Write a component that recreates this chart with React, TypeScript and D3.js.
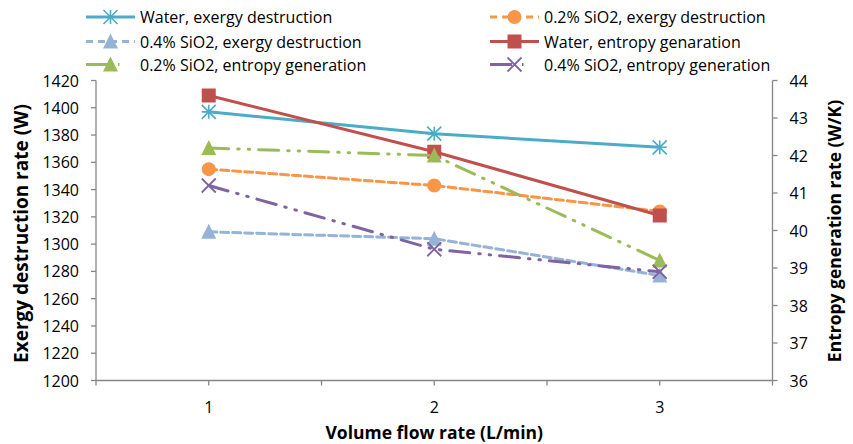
import React from "react";
import * as d3 from "d3";

const flowRates = ["1", "2", "3"];

const waterExergy = [1397, 1381, 1371];
const sio2_02Exergy = [1355, 1343, 1324];
const sio2_04Exergy = [1309, 1304, 1277];
const waterEntropy = [43.6, 42.1, 40.4];
const sio2_02Entropy = [42.2, 42.0, 39.2];
const sio2_04Entropy = [41.2, 39.5, 38.9];

const leftTicks = [1200, 1220, 1240, 1260, 1280, 1300, 1320, 1340, 1360, 1380, 1400, 1420];
const rightTicks = [36, 37, 38, 39, 40, 41, 42, 43, 44];

type Marker = "star" | "circle" | "triangle" | "square" | "x";

interface Series {
  name: string;
  values: number[];
  axis: "left" | "right";
  color: string;
  dash: string;
  legendDash: string;
  marker: Marker;
}

const series: Series[] = [
  { name: "Water, exergy destruction", values: waterExergy, axis: "left", color: "#4BACC6", dash: "", legendDash: "", marker: "star" },
  { name: "0.2% SiO2, exergy destruction", values: sio2_02Exergy, axis: "left", color: "#F79646", dash: "8,4", legendDash: "7,5", marker: "circle" },
  { name: "0.4% SiO2, exergy destruction", values: sio2_04Exergy, axis: "left", color: "#95B3D7", dash: "8,4", legendDash: "7,5", marker: "triangle" },
  { name: "Water, entropy genaration", values: waterEntropy, axis: "right", color: "#C0504D", dash: "", legendDash: "", marker: "square" },
  { name: "0.2% SiO2, entropy generation", values: sio2_02Entropy, axis: "right", color: "#9BBB59", dash: "20,9,1.5,9,1.5,9", legendDash: "22,10,1.5,20", marker: "triangle" },
  { name: "0.4% SiO2, entropy generation", values: sio2_04Entropy, axis: "right", color: "#8064A2", dash: "20,9,1.5,9,1.5,9", legendDash: "22,10,1.5,20", marker: "x" },
];

const W = 853;
const H = 444;
const plot = { left: 96, right: 772.5, top: 80.5, bottom: 380.5 };
const FONT = "'Open Sans', Lato, sans-serif";

function MarkerShape({ type, x, y, color }: { type: Marker; x: number; y: number; color: string }) {
  const s = 7;
  switch (type) {
    case "circle":
      return <circle cx={x} cy={y} r={s} fill={color} />;
    case "square":
      return <rect x={x - s} y={y - s} width={2 * s} height={2 * s} fill={color} />;
    case "triangle":
      return <path d={`M${x},${y - s - 1}L${x + s + 0.5},${y + s}L${x - s - 0.5},${y + s}Z`} fill={color} />;
    case "x":
      return (
        <path
          d={`M${x - s},${y - s}L${x + s},${y + s}M${x - s},${y + s}L${x + s},${y - s}`}
          stroke={color}
          strokeWidth={1.8}
        />
      );
    case "star":
      return (
        <path
          d={`M${x},${y - s}L${x},${y + s}M${x - s},${y - s}L${x + s},${y + s}M${x - s},${y + s}L${x + s},${y - s}M${x - s},${y}L${x + s},${y}`}
          stroke={color}
          strokeWidth={1.6}
        />
      );
  }
}

export default function App() {
  const x = d3.scaleBand<string>().domain(flowRates).range([plot.left, plot.right]);
  const yL = d3.scaleLinear().domain([1200, 1420]).range([plot.bottom, plot.top]);
  const yR = d3.scaleLinear().domain([36, 44]).range([plot.bottom, plot.top]);
  const cx = (c: string) => (x(c) ?? 0) + x.bandwidth() / 2;

  const legendPos = [
    { lx: 86, y: 17 },
    { lx: 490, y: 17 },
    { lx: 86, y: 41.5 },
    { lx: 490, y: 41.5 },
    { lx: 86, y: 64.5 },
    { lx: 490, y: 64.5 },
  ];

  return (
    <svg width={W} height={H} style={{ position: "absolute", left: 0, top: 0, background: "#fff" }} fontFamily={FONT}>
      {/* axes */}
      <g stroke="#868686" strokeWidth={1.3} fill="none">
        <line x1={plot.left} y1={plot.top} x2={plot.left} y2={plot.bottom} />
        <line x1={plot.right} y1={plot.top} x2={plot.right} y2={plot.bottom} />
        <line x1={plot.left} y1={plot.bottom} x2={plot.right} y2={plot.bottom} />
        {leftTicks.map((t) => (
          <line key={t} x1={plot.left - 5} x2={plot.left} y1={yL(t)} y2={yL(t)} />
        ))}
        {rightTicks.map((t) => (
          <line key={t} x1={plot.right} x2={plot.right + 5} y1={yR(t)} y2={yR(t)} />
        ))}
        {[plot.left, ...flowRates.map((c) => (x(c) ?? 0) + x.bandwidth()), ...flowRates.map(cx)].map((p, i) => (
          <line key={i} x1={p} x2={p} y1={plot.bottom} y2={plot.bottom + 5} />
        ))}
      </g>
      <g fontSize={16} fill="#000">
        {leftTicks.map((t) => (
          <text key={t} x={plot.left - 17} y={yL(t)} textAnchor="end" dominantBaseline="central">
            {t}
          </text>
        ))}
        {rightTicks.map((t) => (
          <text key={t} x={plot.right + 17} y={yR(t)} dominantBaseline="central">
            {t}
          </text>
        ))}
        {flowRates.map((c) => (
          <text key={c} x={cx(c)} y={407} textAnchor="middle" dominantBaseline="central">
            {c}
          </text>
        ))}
      </g>
      <g fontWeight="bold" fill="#000">
        <text fontSize={19} transform={`translate(21,233.5) rotate(-90)`} textAnchor="middle" dominantBaseline="central">
          Exergy destruction rate  (W)
        </text>
        <text fontSize={17.5} transform={`translate(834,231) rotate(-90)`} textAnchor="middle" dominantBaseline="central">
          Entropy generation rate (W/K)
        </text>
        <text fontSize={17.5} x={(plot.left + plot.right) / 2} y={432} textAnchor="middle" dominantBaseline="central">
          Volume flow rate (L/min)
        </text>
      </g>
      {/* series */}
      {series.map((s) => {
        const yS = s.axis === "left" ? yL : yR;
        const line = d3
          .line<number>()
          .x((_, i) => cx(flowRates[i]))
          .y((v) => yS(v));
        return (
          <g key={s.name}>
            <path d={line(s.values) ?? ""} fill="none" stroke={s.color} strokeWidth={3} strokeDasharray={s.dash || undefined} strokeLinecap="round" />
            {s.values.map((v, i) => (
              <MarkerShape key={i} type={s.marker} x={cx(flowRates[i])} y={yS(v)} color={s.color} />
            ))}
          </g>
        );
      })}
      {/* legend */}
      {series.map((s, i) => {
        const p = legendPos[i];
        return (
          <g key={s.name}>
            <line x1={p.lx} x2={p.lx + 49} y1={p.y} y2={p.y} stroke={s.color} strokeWidth={3} strokeDasharray={s.legendDash || undefined} />
            <MarkerShape type={s.marker} x={p.lx + 24.5} y={p.y} color={s.color} />
            <text x={p.lx + 54} y={p.y} fontSize={16} dominantBaseline="central" fill="#000">
              {s.name}
            </text>
          </g>
        );
      })}
    </svg>
  );
}
